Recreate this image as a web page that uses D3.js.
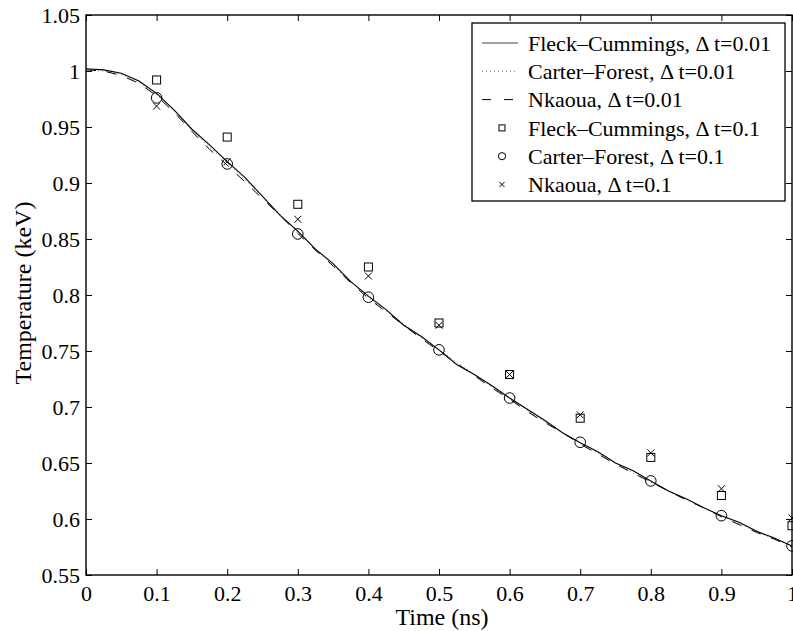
<!DOCTYPE html>
<html><head><meta charset="utf-8">
<script src="https://cdn.jsdelivr.net/npm/d3@7"></script>
<style>
html,body{margin:0;padding:0;background:#fff;}
svg{display:block;}
text{font-family:"Liberation Serif","Times New Roman",serif;fill:#000;}
</style></head>
<body>
<svg id="chart" width="793" height="631"></svg>
<script>
// ---- data ----
const xTicks = [0,0.1,0.2,0.3,0.4,0.5,0.6,0.7,0.8,0.9,1];
const yTicks = [0.55,0.6,0.65,0.7,0.75,0.8,0.85,0.9,0.95,1,1.05];
const fineTime = [0,0.025,0.05,0.075,0.1,0.125,0.15,0.175,0.2,0.225,0.25,0.275,0.3,0.325,0.35,0.375,0.4,0.425,0.45,0.475,0.5,0.525,0.55,0.575,0.6,0.625,0.65,0.675,0.7,0.725,0.75,0.775,0.8,0.825,0.85,0.875,0.9,0.925,0.95,0.975,1.0];
const fleckFine = [1.002,1.001,0.998,0.991,0.980,0.965,0.948,0.934,0.919,0.905,0.888,0.871,0.857,0.841,0.828,0.812,0.799,0.787,0.773,0.763,0.751,0.738,0.729,0.719,0.708,0.698,0.688,0.677,0.668,0.660,0.650,0.643,0.634,0.625,0.618,0.610,0.603,0.597,0.589,0.583,0.576];
const carterFine = [1.001,1.000,0.997,0.990,0.979,0.964,0.947,0.932,0.918,0.903,0.888,0.872,0.856,0.841,0.826,0.812,0.798,0.786,0.774,0.762,0.751,0.740,0.729,0.718,0.708,0.697,0.687,0.677,0.668,0.659,0.650,0.641,0.633,0.625,0.618,0.610,0.603,0.596,0.589,0.582,0.576];
const nkaouaFine = [1.001,1.000,0.996,0.989,0.978,0.963,0.946,0.930,0.916,0.901,0.886,0.871,0.855,0.840,0.826,0.811,0.797,0.785,0.773,0.761,0.750,0.739,0.728,0.717,0.707,0.696,0.686,0.677,0.667,0.658,0.649,0.641,0.633,0.625,0.617,0.610,0.602,0.595,0.588,0.582,0.575];
const coarseTime = [0.1,0.2,0.3,0.4,0.5,0.6,0.7,0.8,0.9,1.0];
const fleckCoarse = [0.992,0.941,0.881,0.825,0.775,0.729,0.690,0.655,0.621,0.594];
const carterCoarse = [0.976,0.917,0.8545,0.798,0.751,0.708,0.6685,0.634,0.603,0.576];
const nkaouaCoarse = [0.9686,0.919,0.8676,0.817,0.773,0.729,0.693,0.659,0.627,0.601];
const legendLabels = ["Fleck\u2013Cummings, \u0394 t=0.01","Carter\u2013Forest, \u0394 t=0.01","Nkaoua, \u0394 t=0.01","Fleck\u2013Cummings, \u0394 t=0.1","Carter\u2013Forest, \u0394 t=0.1","Nkaoua, \u0394 t=0.1"];

// ---- layout ----
const L = 86, R = 792, T = 15, B = 575;
const svg = d3.select("#chart");
const x = d3.scaleLinear().domain([0,1]).range([L,R]);
const y = d3.scaleLinear().domain([0.55,1.05]).range([B,T]);
const fmt = d => String(+d.toFixed(2));

// axes
const gx = svg.append("g").attr("transform",`translate(0,${B})`)
  .call(d3.axisBottom(x).tickValues(xTicks).tickFormat(fmt).tickSizeInner(-6).tickSizeOuter(0).tickPadding(10));
const gxt = svg.append("g").attr("transform",`translate(0,${T})`)
  .call(d3.axisTop(x).tickValues(xTicks).tickFormat("").tickSizeInner(-6).tickSizeOuter(0));
const gy = svg.append("g").attr("transform",`translate(${L},0)`)
  .call(d3.axisLeft(y).tickValues(yTicks).tickFormat(fmt).tickSizeInner(-6).tickSizeOuter(0).tickPadding(6));
const gyr = svg.append("g").attr("transform",`translate(${R},0)`)
  .call(d3.axisRight(y).tickValues(yTicks).tickFormat("").tickSizeInner(-6).tickSizeOuter(0));
[gx,gxt,gy,gyr].forEach(g=>{
  g.attr("font-family",null);
  g.select(".domain").remove();
  g.selectAll(".tick line").attr("stroke","#000").attr("stroke-width",1);
  g.selectAll("text").style("font-size","22px").style("font-family","'Liberation Serif','Times New Roman',serif").attr("fill","#000");
});
svg.append("rect").attr("x",L).attr("y",T).attr("width",R-L).attr("height",B-T)
  .attr("fill","none").attr("stroke","#000").attr("stroke-width",1.4);

// axis labels
svg.append("text").attr("x",442).attr("y",625).attr("text-anchor","middle")
  .style("font-size","24px").text("Time (ns)");
svg.append("text").attr("transform","translate(31,293) rotate(-90)").attr("text-anchor","middle")
  .style("font-size","24px").text("Temperature (keV)");

// lines
const mk = arr => fineTime.map((t,i)=>[t,arr[i]]);
const line = d3.line().x(d=>x(d[0])).y(d=>y(d[1]));
svg.append("path").datum(mk(carterFine)).attr("d",line).attr("fill","none")
  .attr("stroke","#777").attr("stroke-width",1).attr("stroke-dasharray","1,3");
svg.append("path").datum(mk(nkaouaFine)).attr("d",line).attr("fill","none")
  .attr("stroke","#000").attr("stroke-width",1).attr("stroke-dasharray","10,11");
svg.append("path").datum(mk(fleckFine)).attr("d",line).attr("fill","none")
  .attr("stroke","#000").attr("stroke-width",1.1);

// markers
function square(g,cx,cy,s){g.append("rect").attr("x",cx-s/2).attr("y",cy-s/2).attr("width",s).attr("height",s).attr("fill","none").attr("stroke","#000").attr("stroke-width",1);}
function circle(g,cx,cy,r){g.append("circle").attr("cx",cx).attr("cy",cy).attr("r",r).attr("fill","none").attr("stroke","#000").attr("stroke-width",1);}
function cross(g,cx,cy,s){g.append("path").attr("d",`M${cx-s},${cy-s}L${cx+s},${cy+s}M${cx-s},${cy+s}L${cx+s},${cy-s}`).attr("stroke","#000").attr("stroke-width",1).attr("fill","none");}
const gm = svg.append("g");
coarseTime.forEach((t,i)=>{
  square(gm,x(t),y(fleckCoarse[i]),8);
  circle(gm,x(t),y(carterCoarse[i]),5.3);
  cross(gm,x(t),y(nkaouaCoarse[i]),3.5);
});

// legend
const lg = svg.append("g");
lg.append("rect").attr("x",472).attr("y",23).attr("width",313).attr("height",178)
  .attr("fill","#fff").attr("stroke","#000").attr("stroke-width",1.3);
const rowY = i => 43 + i*28.3;
legendLabels.forEach((lab,i)=>{
  lg.append("text").attr("x",528).attr("y",rowY(i)).attr("dy","0.35em").style("font-size","22px").text(lab);
});
lg.append("line").attr("x1",482).attr("x2",518).attr("y1",rowY(0)).attr("y2",rowY(0)).attr("stroke","#444").attr("stroke-width",1);
lg.append("line").attr("x1",482).attr("x2",518).attr("y1",rowY(1)).attr("y2",rowY(1)).attr("stroke","#777").attr("stroke-width",1).attr("stroke-dasharray","1,3");
lg.append("line").attr("x1",482).attr("x2",518).attr("y1",rowY(2)).attr("y2",rowY(2)).attr("stroke","#000").attr("stroke-width",1).attr("stroke-dasharray","9,13");
square(lg,502,rowY(3),6);
circle(lg,502,rowY(4),3.6);
cross(lg,502,rowY(5),2.6);
</script>
</body></html>
